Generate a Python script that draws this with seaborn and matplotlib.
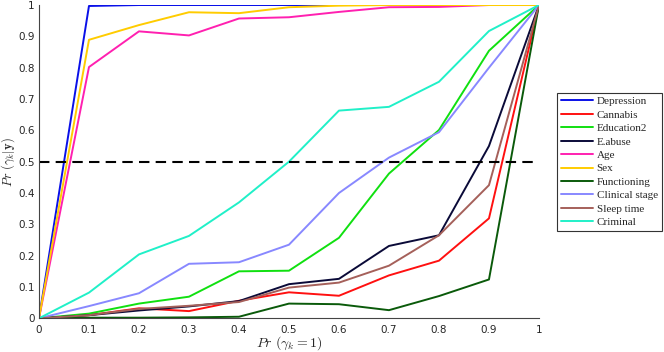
import matplotlib
matplotlib.use("Agg")
import matplotlib.pyplot as plt
import matplotlib.ticker as mticker
import pandas as pd
import seaborn as sns

prior = [0, 0.1, 0.2, 0.3, 0.4, 0.5, 0.6, 0.7, 0.8, 0.9, 1.0]

depression = [0, 0.997, 1.0, 1.0, 1.0, 1.0, 1.0, 1.0, 1.0, 1.0, 1.0]
cannabis = [0, 0.010, 0.032, 0.023, 0.056, 0.083, 0.072, 0.137, 0.184, 0.319, 1.0]
education2 = [0, 0.015, 0.047, 0.069, 0.150, 0.152, 0.257, 0.462, 0.601, 0.854, 1.0]
e_abuse = [0, 0.010, 0.025, 0.038, 0.055, 0.109, 0.126, 0.231, 0.265, 0.550, 1.0]
age = [0, 0.802, 0.916, 0.903, 0.957, 0.961, 0.978, 0.993, 0.994, 1.0, 1.0]
sex = [0, 0.889, 0.936, 0.977, 0.974, 0.993, 0.998, 1.0, 1.0, 1.0, 1.0]
functioning = [0, 0.002, 0.002, 0.003, 0.005, 0.047, 0.045, 0.026, 0.071, 0.124, 1.0]
clinical_stage = [0, 0.039, 0.080, 0.174, 0.179, 0.235, 0.400, 0.513, 0.594, 0.800, 1.0]
sleep_time = [0, 0.010, 0.030, 0.040, 0.052, 0.098, 0.114, 0.168, 0.265, 0.425, 1.0]
criminal = [0, 0.082, 0.204, 0.263, 0.370, 0.500, 0.663, 0.675, 0.755, 0.917, 1.0]

series = {
    "Depression": depression,
    "Cannabis": cannabis,
    "Education2": education2,
    "E.abuse": e_abuse,
    "Age": age,
    "Sex": sex,
    "Functioning": functioning,
    "Clinical stage": clinical_stage,
    "Sleep time": sleep_time,
    "Criminal": criminal,
}

colors = ["#0a10e8", "#ff1010", "#10e010", "#0a0a38", "#ff20b0",
          "#ffcc00", "#0a5a0a", "#8888ff", "#a5605a", "#20f0c8"]


def main():
    sns.set_style("white")
    plt.rcParams["mathtext.fontset"] = "cm"
    plt.rcParams["font.family"] = ["DejaVu Sans"]

    rows = []
    for name, vals in series.items():
        for x, y in zip(prior, vals):
            rows.append({"prior": x, "posterior": y, "Variable": name})
    df = pd.DataFrame(rows)

    fig = plt.figure(figsize=(6.64, 3.52), dpi=100)
    ax = fig.add_axes([0.0587, 0.0957, 0.753, 0.89])

    sns.lineplot(data=df, x="prior", y="posterior", hue="Variable",
                 palette=colors, linewidth=1.4, ax=ax, legend=True,
                 estimator=None, sort=False)
    ax.plot([0, 1], [0.5, 0.5], color="black", linestyle=(0, (5, 3)), linewidth=1.5)

    ax.set_xlim(0, 1)
    ax.set_ylim(0, 1)
    ax.set_xticks(prior)
    ax.set_yticks(prior)
    fmt = mticker.FuncFormatter(lambda v, p: f"{v:g}")
    ax.xaxis.set_major_formatter(fmt)
    ax.yaxis.set_major_formatter(fmt)
    ax.tick_params(direction="in", length=3, labelsize=7.5, colors="#262626",
                   width=0.8)
    ax.tick_params(axis="x", pad=5)
    ax.tick_params(axis="y", pad=3)
    for s in ["top", "right"]:
        ax.spines[s].set_visible(False)
    for s in ["left", "bottom"]:
        ax.spines[s].set_color("#444444")
        ax.spines[s].set_linewidth(0.8)

    ax.set_xlabel(r"$Pr\ (\gamma_k = 1)$", fontsize=10, va="center")
    ax.xaxis.set_label_coords(0.5, -0.078)
    ax.set_ylabel(r"$Pr\ (\gamma_k|\mathbf{y})$", fontsize=9, va="center")
    ax.yaxis.set_label_coords(-0.062, 0.5)

    handles, labels = ax.get_legend_handles_labels()
    ax.get_legend().remove()
    leg = fig.legend(handles, labels, loc="upper left",
                     bbox_to_anchor=(0.839, 0.737), frameon=True,
                     fancybox=False, edgecolor="#333333", framealpha=1,
                     prop={"family": "Liberation Serif", "size": 8},
                     handlelength=2.9, labelspacing=0.33, borderpad=0.35,
                     handletextpad=0.3, borderaxespad=0)
    leg.get_frame().set_linewidth(0.8)

    fig.savefig("out.png", dpi=100)


if __name__ == "__main__":
    main()
